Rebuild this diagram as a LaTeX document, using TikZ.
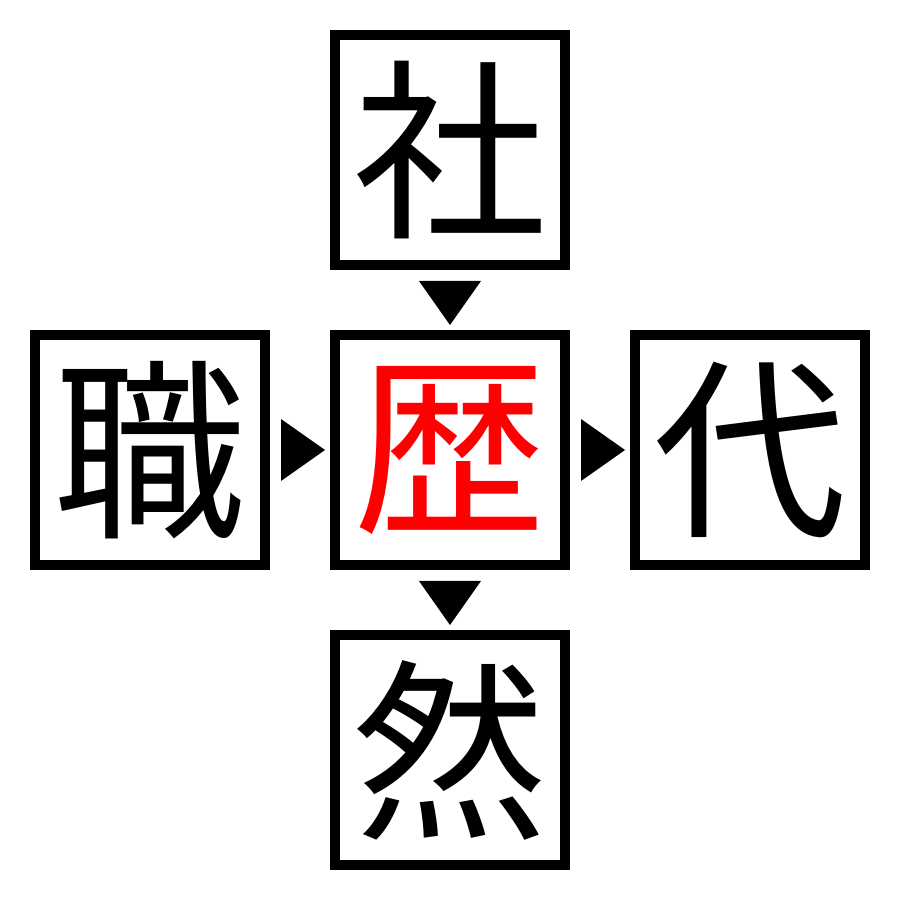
\documentclass[tikz,border=0pt]{standalone}
\usepackage{fontspec}
\newfontfamily\cjk{Noto Sans CJK JP}
\usetikzlibrary{positioning,calc}

\begin{document}
\begin{tikzpicture}[
  cell/.style={rectangle, draw=black, line width=0.1cm, fill=white,
               minimum size=2.3cm, inner sep=0pt,
               font=\cjk\fontsize{55}{55}\selectfont},
  answer/.style={cell, text=red},
  marker/.style={fill=black, draw=none},
  node distance=0.6cm
]

% Canvas
\useasboundingbox (0,0) rectangle (9,9);

% Kanji cells
\node[answer] (mid) at (4.5,4.5) {歴};
\node[cell, above=of mid] (top) {社};
\node[cell, left=of mid] (left) {職};
\node[cell, right=of mid] (right) {代};
\node[cell, below=of mid] (bottom) {然};

% Gap midpoints
\coordinate (gtop) at ($(top.south)!0.5!(mid.north)$);
\coordinate (gleft) at ($(left.east)!0.5!(mid.west)$);
\coordinate (gright) at ($(mid.east)!0.5!(right.west)$);
\coordinate (gbottom) at ($(mid.south)!0.5!(bottom.north)$);

% Direction markers
\fill[marker] ($(gtop)+(-0.31,0.19)$) -- ($(gtop)+(0.31,0.19)$) -- ($(gtop)+(0,-0.25)$) -- cycle;
\fill[marker] ($(gbottom)+(-0.31,0.19)$) -- ($(gbottom)+(0.31,0.19)$) -- ($(gbottom)+(0,-0.25)$) -- cycle;
\fill[marker] ($(gleft)+(-0.19,0.31)$) -- ($(gleft)+(-0.19,-0.31)$) -- ($(gleft)+(0.25,0)$) -- cycle;
\fill[marker] ($(gright)+(-0.19,0.31)$) -- ($(gright)+(-0.19,-0.31)$) -- ($(gright)+(0.25,0)$) -- cycle;

\end{tikzpicture}
\end{document}
